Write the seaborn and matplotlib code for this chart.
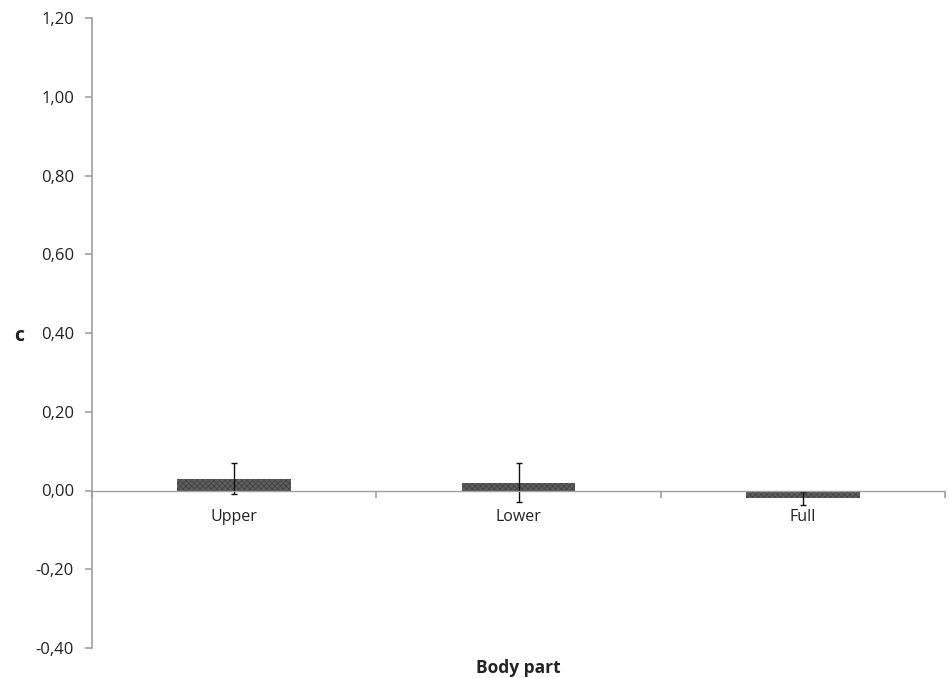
import matplotlib
matplotlib.use("Agg")
import matplotlib.pyplot as plt
import matplotlib.ticker as mticker
import seaborn as sns
import pandas as pd
import numpy as np

categories = ["Upper", "Lower", "Full"]
values = [0.03, 0.02, -0.02]
errors = [0.04, 0.05, 0.016]
y_ticks = [-0.40, -0.20, 0.00, 0.20, 0.40, 0.60, 0.80, 1.00, 1.20]

sns.set_theme(style="white")
plt.rcParams["font.family"] = ["Open Sans", "DejaVu Sans"]
plt.rcParams["hatch.color"] = "#333333"
plt.rcParams["hatch.linewidth"] = 0.6

df = pd.DataFrame({"part": categories, "c": values})

fig = plt.figure(figsize=(9.49, 6.78), dpi=100)
ax = fig.add_axes([92 / 949, 30 / 678, (945 - 92) / 949, (648 - 18) / 678])

sns.barplot(data=df, x="part", y="c", color="#5e5e5e", width=0.4,
            errorbar=None, ax=ax, saturation=1)
for p in ax.patches:
    p.set_hatch("xxxxxx")
    p.set_edgecolor("#444444")
    p.set_linewidth(0)

centers = [p.get_x() + p.get_width() / 2 for p in ax.patches]
ax.errorbar(centers, values, yerr=errors, fmt="none", ecolor="#111111",
            elinewidth=1.0, capsize=2.3, capthick=1.0)

ax.set_ylim(y_ticks[0], y_ticks[-1])
ax.set_xlim(-0.5, len(categories) - 0.5)
ax.set_yticks(y_ticks)
ax.yaxis.set_major_formatter(mticker.FuncFormatter(lambda v, _: f"{v:.2f}".replace(".", ",").replace("-0,00", "0,00")))

for s in ["top", "right"]:
    ax.spines[s].set_visible(False)
ax.spines["left"].set_color("#a0a0a0")
ax.spines["left"].set_linewidth(1.2)
ax.spines["bottom"].set_position(("data", 0))
ax.spines["bottom"].set_color("#a0a0a0")
ax.spines["bottom"].set_linestyle((0, (2, 1)))
ax.spines["bottom"].set_linewidth(1.0)

ax.tick_params(axis="y", which="major", direction="out", length=5, width=1.2,
               color="#a0a0a0", labelsize=12, labelcolor="#222222", pad=8, left=True)
ax.tick_params(axis="x", which="major", length=0, labelsize=11.5,
               labelcolor="#222222", pad=13)
ax.set_xticks(np.arange(-0.5, len(categories), 1.0), minor=True)
ax.tick_params(axis="x", which="minor", direction="out", length=5, width=1.2,
               color="#a0a0a0", bottom=True)

ax.set_xlabel("Body part", fontsize=12.5, fontweight="bold", color="#222222")
ax.xaxis.set_label_coords(0.5, -0.018)
ax.set_ylabel("c", fontsize=14, fontweight="bold", color="#222222", rotation=0)
ax.yaxis.set_label_coords(-0.086, 0.48)
ax.grid(False)

fig.savefig("out.png", dpi=100)
